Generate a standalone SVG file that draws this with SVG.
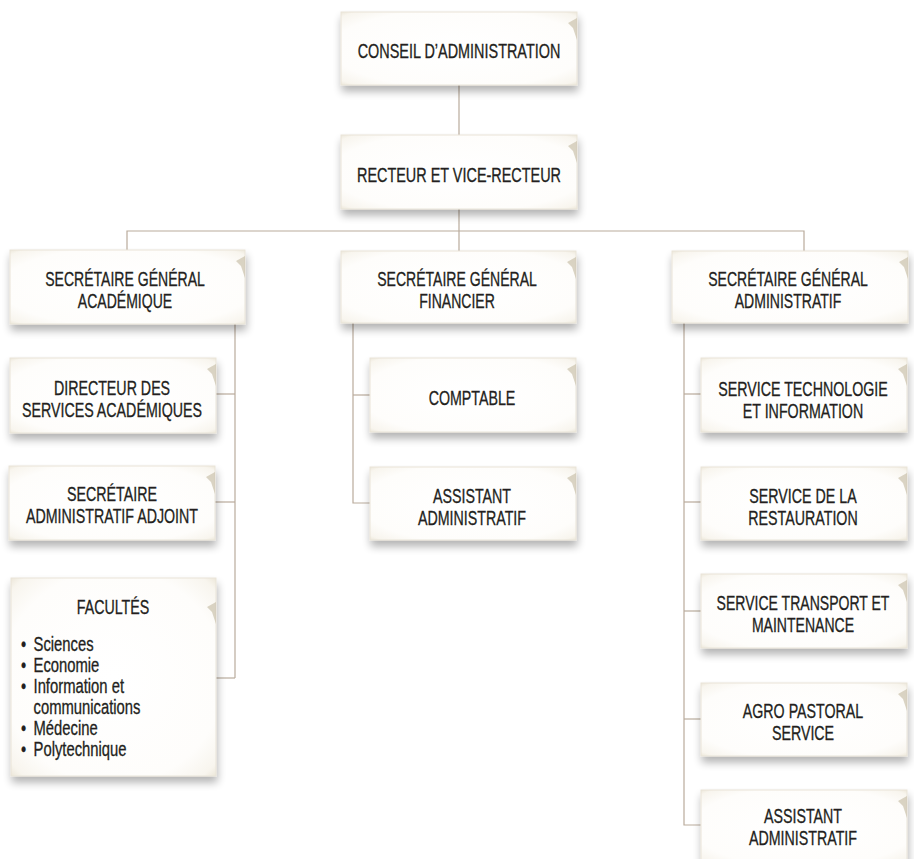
<svg xmlns="http://www.w3.org/2000/svg" xmlns:xlink="http://www.w3.org/1999/xlink" width="914" height="859" viewBox="0 0 914 859">
<defs>
<style>
.card{fill:url(#paper);stroke:#e9e4d8;stroke-width:1;filter:url(#shadow)}
.curl{fill:#cbc2ad;opacity:0.7}
.lbl{font-family:"Liberation Sans",Arial,sans-serif;font-size:19.5px;fill:#231f20;stroke:#231f20;stroke-width:0.3;text-anchor:middle}
.lst{font-family:"Liberation Sans",Arial,sans-serif;font-size:19.5px;fill:#231f20;stroke:#231f20;stroke-width:0.3}
.conn{fill:none;stroke:#b9ab9c;stroke-width:1.2}
</style>
<radialGradient id="paper" cx="0.5" cy="0.5" r="0.72">
<stop offset="0" stop-color="#ffffff"/>
<stop offset="0.75" stop-color="#fefdfb"/>
<stop offset="0.92" stop-color="#f8f5ee"/>
<stop offset="1" stop-color="#e9e3d3"/>
</radialGradient>
<filter id="shadow" x="-10%" y="-10%" width="125%" height="140%">
<feGaussianBlur in="SourceAlpha" stdDeviation="4"/>
<feOffset dx="1" dy="6" result="b"/>
<feComponentTransfer><feFuncA type="linear" slope="0.3"/></feComponentTransfer>
<feMerge><feMergeNode/><feMergeNode in="SourceGraphic"/></feMerge>
</filter>
<path id="curl" d="M0,6 L-9,11 L-4,16 L0,28 Z"/>
</defs>

<g id="connectors" class="conn">
<path d="M459,85 V135"/>
<path d="M459,209 V231"/>
<path d="M127,250 V231 H804 V251"/>
<path d="M459,231 V251"/>
<path d="M235,324 V678"/>
<path d="M216,394 H235"/>
<path d="M215,502 H235"/>
<path d="M216,678 H235"/>
<path d="M353,323 V503 H370"/>
<path d="M353,395 H370"/>
<path d="M684,323 V825 H701"/>
<path d="M684,394 H701"/>
<path d="M684,502 H701"/>
<path d="M684,611 H701"/>
<path d="M684,719 H701"/>
</g>

<g id="conseil">
<rect class="card" x="341" y="12" width="236" height="73"/>
<use href="#curl" class="curl" x="577" y="12"/>
<g transform="translate(459 0) scale(0.74 1)"><text class="lbl" x="0" y="58">CONSEIL D’ADMINISTRATION</text></g>
</g>

<g id="recteur">
<rect class="card" x="341" y="135" width="236" height="74"/>
<use href="#curl" class="curl" x="577" y="135"/>
<g transform="translate(459 0) scale(0.74 1)"><text class="lbl" x="0" y="182">RECTEUR ET VICE-RECTEUR</text></g>
</g>

<g id="sg-academique">
<rect class="card" x="10" y="250" width="235" height="74"/>
<use href="#curl" class="curl" x="245" y="250"/>
<g transform="translate(125 0) scale(0.72 1)"><text class="lbl"><tspan x="0" y="286">SECRÉTAIRE GÉNÉRAL</tspan><tspan x="0" y="308">ACADÉMIQUE</tspan></text></g>
</g>

<g id="sg-financier">
<rect class="card" x="341" y="251" width="235" height="72"/>
<use href="#curl" class="curl" x="576" y="251"/>
<g transform="translate(457 0) scale(0.72 1)"><text class="lbl"><tspan x="0" y="286">SECRÉTAIRE GÉNÉRAL</tspan><tspan x="0" y="308">FINANCIER</tspan></text></g>
</g>

<g id="sg-administratif">
<rect class="card" x="672" y="251" width="236" height="72"/>
<use href="#curl" class="curl" x="908" y="251"/>
<g transform="translate(788 0) scale(0.72 1)"><text class="lbl"><tspan x="0" y="286">SECRÉTAIRE GÉNÉRAL</tspan><tspan x="0" y="308">ADMINISTRATIF</tspan></text></g>
</g>

<g id="directeur">
<rect class="card" x="10" y="358" width="206" height="75"/>
<use href="#curl" class="curl" x="216" y="358"/>
<g transform="translate(112 0) scale(0.73 1)"><text class="lbl"><tspan x="0" y="395">DIRECTEUR DES</tspan><tspan x="0" y="417">SERVICES ACADÉMIQUES</tspan></text></g>
</g>

<g id="secretaire-adjoint">
<rect class="card" x="9" y="466" width="206" height="74"/>
<use href="#curl" class="curl" x="215" y="466"/>
<g transform="translate(112 0) scale(0.73 1)"><text class="lbl"><tspan x="0" y="501">SECRÉTAIRE</tspan><tspan x="0" y="523">ADMINISTRATIF ADJOINT</tspan></text></g>
</g>

<g id="facultes">
<rect class="card" x="11" y="578" width="205" height="198"/>
<use href="#curl" class="curl" x="216" y="596"/>
<g transform="translate(113 0) scale(0.73 1)"><text class="lbl" x="0" y="614">FACULTÉS</text></g>
<g transform="translate(21 0) scale(0.76 1)">
<text class="lst">
<tspan x="0" y="651">•</tspan><tspan x="16.5" y="651">Sciences</tspan>
<tspan x="0" y="672">•</tspan><tspan x="16.5" y="672">Economie</tspan>
<tspan x="0" y="693">•</tspan><tspan x="16.5" y="693">Information et</tspan>
<tspan x="16.5" y="714">communications</tspan>
<tspan x="0" y="735">•</tspan><tspan x="16.5" y="735">Médecine</tspan>
<tspan x="0" y="756">•</tspan><tspan x="16.5" y="756">Polytechnique</tspan>
</text>
</g>
</g>

<g id="comptable">
<rect class="card" x="370" y="358" width="206" height="74"/>
<use href="#curl" class="curl" x="576" y="358"/>
<g transform="translate(472 0) scale(0.73 1)"><text class="lbl" x="0" y="405">COMPTABLE</text></g>
</g>

<g id="assistant-financier">
<rect class="card" x="370" y="467" width="206" height="73"/>
<use href="#curl" class="curl" x="576" y="467"/>
<g transform="translate(472 0) scale(0.73 1)"><text class="lbl"><tspan x="0" y="503">ASSISTANT</tspan><tspan x="0" y="525">ADMINISTRATIF</tspan></text></g>
</g>

<g id="service-technologie">
<rect class="card" x="701" y="358" width="206" height="74"/>
<use href="#curl" class="curl" x="907" y="358"/>
<g transform="translate(803 0) scale(0.73 1)"><text class="lbl"><tspan x="0" y="396">SERVICE TECHNOLOGIE</tspan><tspan x="0" y="418">ET INFORMATION</tspan></text></g>
</g>

<g id="service-restauration">
<rect class="card" x="701" y="467" width="206" height="73"/>
<use href="#curl" class="curl" x="907" y="467"/>
<g transform="translate(803 0) scale(0.73 1)"><text class="lbl"><tspan x="0" y="503">SERVICE DE LA</tspan><tspan x="0" y="525">RESTAURATION</tspan></text></g>
</g>

<g id="service-transport">
<rect class="card" x="701" y="574" width="206" height="74"/>
<use href="#curl" class="curl" x="907" y="574"/>
<g transform="translate(803 0) scale(0.72 1)"><text class="lbl"><tspan x="0" y="610">SERVICE TRANSPORT ET</tspan><tspan x="0" y="632">MAINTENANCE</tspan></text></g>
</g>

<g id="agro-pastoral">
<rect class="card" x="701" y="683" width="206" height="73"/>
<use href="#curl" class="curl" x="907" y="683"/>
<g transform="translate(803 0) scale(0.73 1)"><text class="lbl"><tspan x="0" y="718">AGRO PASTORAL</tspan><tspan x="0" y="740">SERVICE</tspan></text></g>
</g>

<g id="assistant-administratif">
<rect class="card" x="701" y="790" width="206" height="74"/>
<use href="#curl" class="curl" x="907" y="790"/>
<g transform="translate(803 0) scale(0.73 1)"><text class="lbl"><tspan x="0" y="823">ASSISTANT</tspan><tspan x="0" y="845">ADMINISTRATIF</tspan></text></g>
</g>
</svg>
